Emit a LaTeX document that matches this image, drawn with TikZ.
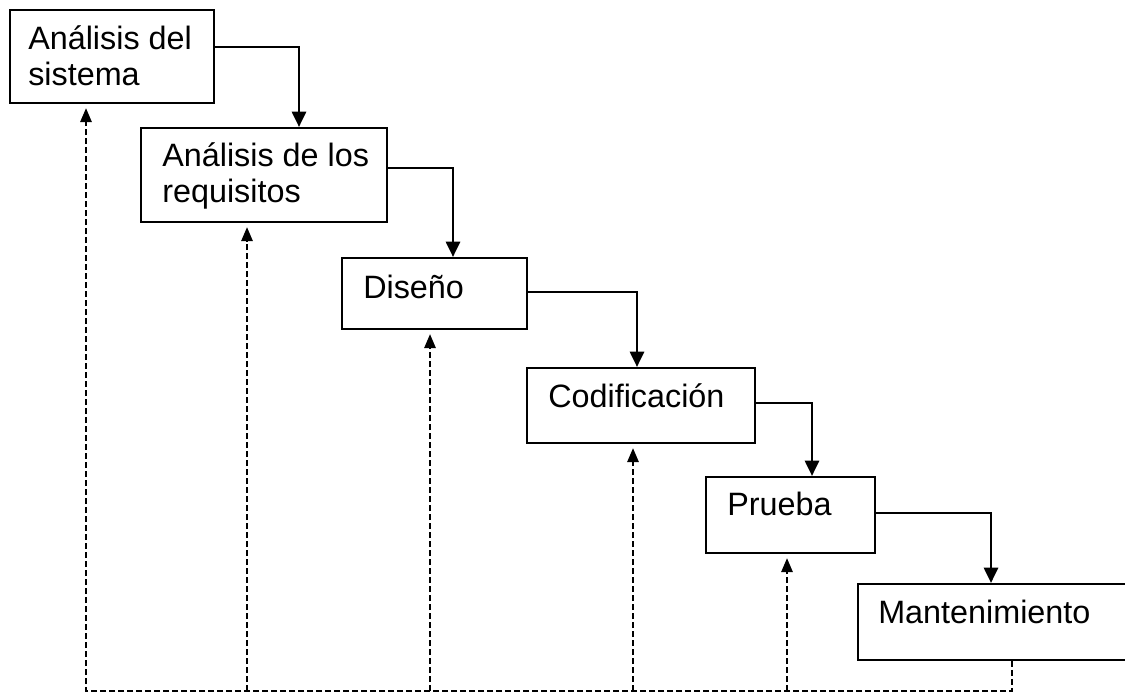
\documentclass[tikz,border=0pt]{standalone}
\usepackage{fontspec}
\setmainfont{Liberation Sans}
\usetikzlibrary{arrows.meta}

\begin{document}
\begin{tikzpicture}[x=0.025cm, y=-0.025cm,
    phase/.style={draw, line width=1.3pt, inner sep=0pt, anchor=north west},
    lbl/.style={anchor=base west, inner sep=0pt, align=left, font=\fontsize{23}{25.6}\selectfont},
    flow/.style={line width=2.1pt, -{Triangle[length=11pt,width=10pt]}},
    back/.style={line width=1.6pt, dash pattern=on 4.2pt off 2.2pt, shorten >=3pt,
        -{Triangle[length=10pt,width=8pt]}}]

    \useasboundingbox (0,0) rectangle (1125,693);
    \clip (0,0) rectangle (1125,693);

    % phases
    \node[phase, minimum width=5.1cm, minimum height=2.325cm] (sis) at (9,9) {};
    \node[phase, minimum width=6.15cm, minimum height=2.35cm] (req) at (140,127) {};
    \node[phase, minimum width=4.625cm, minimum height=1.775cm] (dis) at (341,257) {};
    \node[phase, minimum width=5.7cm, minimum height=1.875cm] (cod) at (526,367) {};
    \node[phase, minimum width=4.225cm, minimum height=1.9cm] (pru) at (705,476) {};
    \node[phase, minimum width=7.5cm, minimum height=1.9cm] (man) at (857,583) {};

    % base of the last line
    \node[lbl] (sistxt) at (28,85) {Análisis del\\sistema};
    \node[lbl] (reqtxt) at (162,202) {Análisis de los\\requisitos};
    \node[lbl] (distxt) at (363,298) {Diseño};
    \node[lbl] (codtxt) at (548,407) {Codificación};
    \node[lbl] (prutxt) at (727,515) {Prueba};
    \node[lbl] (mantxt) at (878,623) {Mantenimiento};

    % cascade
    \draw[flow] (sis.east |- 0,47) -| (req.north -| 299,0);
    \draw[flow] (req.east |- 0,168) -| (dis.north -| 453,0);
    \draw[flow] (dis.east |- 0,292) -| (cod.north -| 637,0);
    \draw[flow] (cod.east |- 0,403) -| (pru.north -| 812,0);
    \draw[flow] (pru.east |- 0,513) -| (man.north -| 991,0);

    % feedback
    \coordinate (ret) at (0,691);
    \draw[back] (man.south -| 1012,0) |- (ret -| 86,0) -- (sis.south -| 86,0);
    \draw[back] (ret -| 247,0) -- (req.south -| 247,0);
    \draw[back] (ret -| 430,0) -- (dis.south -| 430,0);
    \draw[back] (ret -| 633,0) -- (cod.south -| 633,0);
    \draw[back] (ret -| 787,0) -- (pru.south -| 787,0);
\end{tikzpicture}
\end{document}
